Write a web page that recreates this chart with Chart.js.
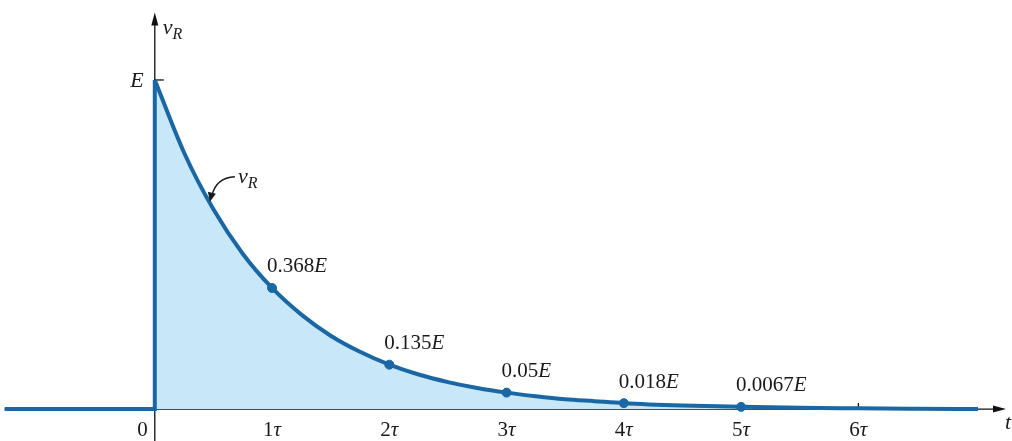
<!DOCTYPE html>
<html>
<head>
<meta charset="utf-8">
<script src="https://cdn.jsdelivr.net/npm/chart.js@4/dist/chart.umd.min.js"></script>
<style>
  html, body { margin: 0; padding: 0; background: #fff; }
  #chartCanvas { display: block; }
</style>
</head>
<body>
<canvas id="chartCanvas" width="1012" height="441"></canvas>
<script>
// axis range, in units of tau and of E
const xMin = -1.32, xMax = 7.31;
const yMin = -0.097, yMax = 1.243;

// v_R (fraction of E) at multiples of tau
const tTau = [0, 0.25, 0.5, 0.75, 1, 1.25, 1.5, 1.75, 2, 2.25, 2.5, 2.75, 3, 3.25, 3.5, 3.75, 4, 4.5, 5, 5.5, 6, 6.5, 7.02];
const vR   = [1, 0.779, 0.607, 0.472, 0.368, 0.287, 0.223, 0.174, 0.135, 0.105, 0.082, 0.064, 0.05, 0.039, 0.03, 0.024, 0.018, 0.011, 0.0067, 0.004, 0.0025, 0.0012, 0];

// zero before the switch, then the jump up to E
const stepT = [-1.28, 0, 0];
const stepV = [0, 0, 1];

// marked points and their labels
const markT = [1, 2, 3, 4, 5];
const markV = [0.368, 0.135, 0.05, 0.018, 0.0067];
const markText = ["0.368", "0.135", "0.05", "0.018", "0.0067"];

// tick labels on the time axis
const tickT = [1, 2, 3, 4, 5, 6];
const tickText = ["1τ", "2τ", "3τ", "4τ", "5τ", "6τ"];

const blue = "#1a67a4";
const fillBlue = "#c8e7f8";
const serif = "'Liberation Serif', 'DejaVu Serif', serif";

function pts(xs, ys) { return xs.map((x, i) => ({ x: x, y: ys[i] })); }

// draw "v" with subscript R
function drawVR(ctx, x, y) {
    ctx.textAlign = "left";
    ctx.textBaseline = "alphabetic";
    ctx.font = "italic 22px " + serif;
    ctx.fillText("v", x, y);
    const w = ctx.measureText("v").width;
    ctx.font = "italic 16px " + serif;
    ctx.fillText("R", x + w, y + 5);
}

const axesPlugin = {
    id: "axesPlugin",
    beforeDatasetsDraw(chart) {
        const ctx = chart.ctx;
        const xs = chart.scales.x, ys = chart.scales.y;
        const x0 = xs.getPixelForValue(0), y0 = ys.getPixelForValue(0);
        const xEnd = xs.getPixelForValue(xMax) - 6;
        const yTop = ys.getPixelForValue(1.205);
        ctx.save();
        ctx.strokeStyle = "#111";
        ctx.fillStyle = "#111";
        ctx.lineWidth = 1.3;
        // y axis
        ctx.beginPath();
        ctx.moveTo(x0, chart.height);
        ctx.lineTo(x0, yTop + 8);
        ctx.stroke();
        ctx.beginPath();
        ctx.moveTo(x0, yTop);
        ctx.lineTo(x0 - 3.5, yTop + 13);
        ctx.lineTo(x0 + 3.5, yTop + 13);
        ctx.closePath();
        ctx.fill();
        // x axis
        ctx.beginPath();
        ctx.moveTo(xs.getPixelForValue(stepT[0]), y0);
        ctx.lineTo(xEnd - 8, y0);
        ctx.stroke();
        ctx.beginPath();
        ctx.moveTo(xEnd, y0);
        ctx.lineTo(xEnd - 13, y0 - 3.5);
        ctx.lineTo(xEnd - 13, y0 + 3.5);
        ctx.closePath();
        ctx.fill();
        // ticks
        tickT.forEach(t => {
            const px = xs.getPixelForValue(t);
            ctx.beginPath();
            ctx.moveTo(px, y0);
            ctx.lineTo(px, y0 - 6);
            ctx.stroke();
        });
        const yE = ys.getPixelForValue(1);
        ctx.beginPath();
        ctx.moveTo(x0, yE);
        ctx.lineTo(x0 + 9, yE);
        ctx.stroke();
        ctx.restore();
    },
    afterDatasetsDraw(chart) {
        const ctx = chart.ctx;
        const xs = chart.scales.x, ys = chart.scales.y;
        const x0 = xs.getPixelForValue(0), y0 = ys.getPixelForValue(0);
        ctx.save();
        ctx.fillStyle = "#1a1a1a";
        // tick labels
        ctx.font = "21px " + serif;
        ctx.textBaseline = "middle";
        ctx.textAlign = "right";
        ctx.fillText("0", x0 - 7, y0 + 21);
        tickT.forEach((t, i) => {
            const label = tickText[i];
            const px = xs.getPixelForValue(t);
            ctx.font = "21px " + serif;
            const wn = ctx.measureText(label.slice(0, -1)).width;
            ctx.font = "italic 21px " + serif;
            const wt = ctx.measureText("τ").width;
            const left = px - (wn + wt) / 2;
            ctx.textAlign = "left";
            ctx.font = "21px " + serif;
            ctx.fillText(label.slice(0, -1), left, y0 + 21);
            ctx.font = "italic 21px " + serif;
            ctx.fillText("τ", left + wn, y0 + 21);
        });
        // E on the y axis
        ctx.font = "italic 22px " + serif;
        ctx.textAlign = "right";
        ctx.fillText("E", x0 - 11, ys.getPixelForValue(1) + 1);
        // axis names
        drawVR(ctx, x0 + 8, ys.getPixelForValue(1.205) + 21);
        ctx.font = "italic 22px " + serif;
        ctx.textAlign = "left";
        ctx.textBaseline = "middle";
        ctx.fillText("t", xs.getPixelForValue(xMax) - 7, y0 + 14);
        // value labels at the marked points
        markT.forEach((t, i) => {
            const px = xs.getPixelForValue(t);
            const py = Math.min(ys.getPixelForValue(markV[i]) - 21, y0 - 23);
            ctx.textAlign = "left";
            ctx.textBaseline = "middle";
            ctx.font = "21px " + serif;
            ctx.fillText(markText[i], px - 5, py);
            const w = ctx.measureText(markText[i]).width;
            ctx.font = "italic 21px " + serif;
            ctx.fillText("E", px - 5 + w, py);
        });
        // curve label with curved arrow
        const tipX = xs.getPixelForValue(0.47), tipY = ys.getPixelForValue(0.63);
        drawVR(ctx, tipX + 28, tipY - 19);
        ctx.strokeStyle = "#1a1a1a";
        ctx.lineWidth = 1.5;
        ctx.beginPath();
        ctx.moveTo(tipX + 25, tipY - 25);
        ctx.quadraticCurveTo(tipX + 6, tipY - 24, tipX + 2, tipY - 6);
        ctx.stroke();
        ctx.beginPath();
        ctx.moveTo(tipX, tipY);
        ctx.lineTo(tipX - 2, tipY - 10);
        ctx.lineTo(tipX + 6, tipY - 8);
        ctx.closePath();
        ctx.fill();
        ctx.restore();
    }
};

const ctx = document.getElementById("chartCanvas").getContext("2d");
new Chart(ctx, {
    type: "scatter",
    data: {
        datasets: [
            {
                label: "v_R",
                data: pts(tTau, vR),
                showLine: true,
                borderColor: blue,
                borderWidth: 4,
                backgroundColor: fillBlue,
                fill: "origin",
                cubicInterpolationMode: "monotone",
                pointRadius: 0,
                order: 2
            },
            {
                label: "step",
                data: pts(stepT, stepV),
                showLine: true,
                borderColor: blue,
                borderWidth: 4,
                fill: false,
                tension: 0,
                pointRadius: 0,
                borderCapStyle: "butt",
                order: 1
            },
            {
                label: "marks",
                data: pts(markT, markV),
                showLine: false,
                pointRadius: 4.5,
                pointBackgroundColor: blue,
                pointBorderColor: blue,
                order: 0
            }
        ]
    },
    options: {
        responsive: false,
        animation: false,
        layout: { padding: 0, autoPadding: false },
        plugins: {
            legend: { display: false },
            tooltip: { enabled: false }
        },
        scales: {
            x: { type: "linear", min: xMin, max: xMax, display: false },
            y: { type: "linear", min: yMin, max: yMax, display: false }
        }
    },
    plugins: [axesPlugin]
});
</script>
</body>
</html>
